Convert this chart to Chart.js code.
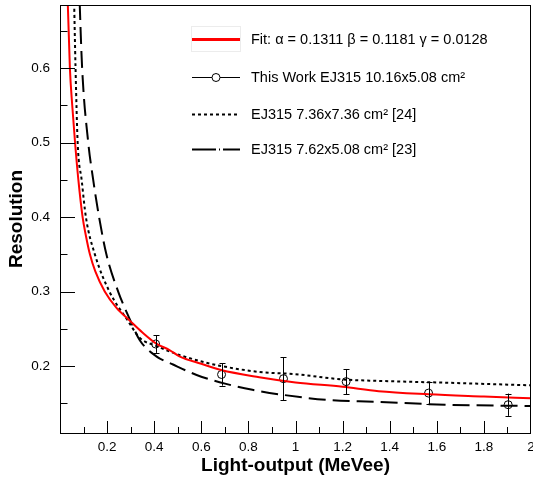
<!DOCTYPE html>
<html>
<head>
<meta charset="utf-8">
<script src="https://cdn.jsdelivr.net/npm/chart.js@4.4.1/dist/chart.umd.min.js"></script>
<style>
  html, body { margin: 0; padding: 0; background: #fff; }
  #wrap { width: 533px; height: 485px; }
</style>
</head>
<body>
<div id="wrap"><canvas id="resChart"></canvas></div>
<script>
// fit curve (red)
const fitX = [0.030, 0.042, 0.052, 0.064, 0.078, 0.096, 0.11, 0.127, 0.15, 0.19, 0.24, 0.296, 0.35, 0.409, 0.465, 0.507, 0.6, 0.684, 0.846, 1.0, 1.2, 1.353, 1.565, 1.8, 2.0];
const fitY = [0.72, 0.60, 0.55, 0.50, 0.45, 0.40, 0.375, 0.35, 0.327, 0.30, 0.278, 0.261, 0.245, 0.230, 0.2215, 0.213, 0.203, 0.1946, 0.185, 0.178, 0.172, 0.166, 0.162, 0.159, 0.1566];

// this work, points with errors
const workX = [0.406, 0.686, 0.949, 1.215, 1.565, 1.903];
const workY = [0.2296, 0.1886, 0.183, 0.179, 0.1636, 0.148];
const workErr = [0.012, 0.015, 0.029, 0.017, 0.0146, 0.015];

// EJ315 7.36x7.36 [24] (dotted)
const ej736X = [0.058, 0.066, 0.075, 0.092, 0.11, 0.148, 0.21, 0.288, 0.338, 0.409, 0.507, 0.62, 0.684, 0.846, 1.0, 1.2, 1.353, 1.635, 2.0];
const ej736Y = [0.72, 0.60, 0.50, 0.45, 0.40, 0.35, 0.30, 0.261, 0.238, 0.227, 0.2148, 0.2045, 0.200, 0.192, 0.189, 0.182, 0.180, 0.1776, 0.174];

// EJ315 7.62x5.08 [23] (long dash)
const ej762X = [0.080, 0.094, 0.12, 0.141, 0.166, 0.197, 0.247, 0.299, 0.338, 0.409, 0.48, 0.58, 0.705, 0.817, 0.93, 1.14, 1.34, 1.635, 2.0];
const ej762Y = [0.72, 0.60, 0.50, 0.45, 0.40, 0.35, 0.30, 0.261, 0.235, 0.213, 0.202, 0.188, 0.176, 0.168, 0.162, 0.1543, 0.152, 0.148, 0.1463];

const xTicks = [0.2, 0.4, 0.6, 0.8, 1, 1.2, 1.4, 1.6, 1.8, 2];
const xTickLabels = ['0.2', '0.4', '0.6', '0.8', '1', '1.2', '1.4', '1.6', '1.8', '2'];
const yTicks = [0.2, 0.3, 0.4, 0.5, 0.6];
const yTickLabels = ['0.2', '0.3', '0.4', '0.5', '0.6'];

const labels = [
  'Fit: \u03b1 = 0.1311 \u03b2 = 0.1181 \u03b3 = 0.0128',
  'This Work EJ315 10.16x5.08 cm\u00b2',
  'EJ315 7.36x7.36 cm\u00b2 [24]',
  'EJ315 7.62x5.08 cm\u00b2 [23]'
];

function pts(xs, ys) {
  return xs.map((x, i) => ({ x: x, y: ys[i] }));
}

const FONT = '"Liberation Sans", Helvetica, Arial, sans-serif';

// frame + inward ticks (ROOT style)
const framePlugin = {
  id: 'frame',
  afterDatasetsDraw(chart) {
    const ctx = chart.ctx;
    const a = chart.chartArea;
    const xs = chart.scales.x, ys = chart.scales.y;
    ctx.save();
    ctx.strokeStyle = '#000';
    ctx.lineWidth = 1;
    ctx.strokeRect(Math.round(a.left) + 0.5, Math.round(a.top) + 0.5,
      Math.round(a.right - a.left) - 1, Math.round(a.bottom - a.top));
    ctx.beginPath();
    for (let v = 0.1; v < 2.0; v += 0.1) {
      const px = Math.round(xs.getPixelForValue(v)) + 0.5;
      const major = Math.round(v * 10) % 2 === 0;
      ctx.moveTo(px, a.bottom);
      ctx.lineTo(px, a.bottom - (major ? 12 : 6));
    }
    for (let v = 0.15; v < 0.69; v += 0.05) {
      const py = Math.round(ys.getPixelForValue(v)) + 0.5;
      const major = Math.round(v * 100) % 10 === 0;
      ctx.moveTo(a.left, py);
      ctx.lineTo(a.left + (major ? 15 : 7.5), py);
    }
    ctx.stroke();
    ctx.restore();
  }
};

// error bars for "This Work"
const errorBarPlugin = {
  id: 'errorBars',
  afterDatasetsDraw(chart) {
    const ctx = chart.ctx;
    const xs = chart.scales.x, ys = chart.scales.y;
    ctx.save();
    ctx.strokeStyle = '#000';
    ctx.lineWidth = 1;
    ctx.beginPath();
    workX.forEach((x, i) => {
      const px = Math.round(xs.getPixelForValue(x)) + 0.5;
      const top = ys.getPixelForValue(workY[i] + workErr[i]);
      const bot = ys.getPixelForValue(workY[i] - workErr[i]);
      ctx.moveTo(px, top); ctx.lineTo(px, bot);
      ctx.moveTo(px - 3, Math.round(top) + 0.5); ctx.lineTo(px + 3, Math.round(top) + 0.5);
      ctx.moveTo(px - 3, Math.round(bot) + 0.5); ctx.lineTo(px + 3, Math.round(bot) + 0.5);
    });
    ctx.stroke();
    ctx.restore();
  }
};

// legend drawn in ROOT layout
const legendPlugin = {
  id: 'rootLegend',
  afterDraw(chart) {
    const ctx = chart.ctx;
    const rows = [39, 77, 114, 149];
    const x0 = 192, x1 = 240, tx = 251;
    ctx.save();
    chart.data.datasets.forEach((ds, i) => {
      const y = rows[i] + 0.5;
      if (i === 0) {
        ctx.strokeStyle = '#ececec';
        ctx.lineWidth = 1;
        ctx.strokeRect(x0 - 0.5, 26.5, x1 - x0 + 1, 25);
      }
      ctx.setLineDash(ds.legendDash || ds.borderDash || []);
      ctx.strokeStyle = ds.borderColor;
      ctx.lineWidth = ds.legendWidth || ds.borderWidth;
      ctx.beginPath();
      ctx.moveTo(x0, y);
      ctx.lineTo(x1, y);
      ctx.stroke();
      ctx.setLineDash([]);
      if (i === 1) {
        ctx.fillStyle = '#fff';
        ctx.beginPath();
        ctx.arc((x0 + x1) / 2, y, 4, 0, Math.PI * 2);
        ctx.fill();
        ctx.stroke();
      }
      ctx.fillStyle = '#000';
      ctx.font = '14.5px ' + FONT;
      ctx.textBaseline = 'middle';
      ctx.textAlign = 'left';
      ctx.fillText(ds.label, tx, rows[i] + 1);
    });
    ctx.restore();
  }
};

function trimPadding(axis) {
  axis.paddingLeft = 0; axis.paddingRight = 0;
  axis.paddingTop = 0; axis.paddingBottom = 0;
}

new Chart(document.getElementById('resChart'), {
  type: 'scatter',
  data: {
    datasets: [
      {
        label: labels[0],
        data: pts(fitX, fitY),
        showLine: true,
        borderColor: '#ff0000',
        borderWidth: 2,
        legendWidth: 3,
        pointRadius: 0,
        cubicInterpolationMode: 'monotone',
        clip: 0,
        order: 0
      },
      {
        label: labels[1],
        data: pts(workX, workY),
        showLine: false,
        borderColor: '#000',
        borderWidth: 1,
        pointStyle: 'circle',
        pointRadius: 4,
        pointBorderColor: '#000',
        pointBackgroundColor: 'rgba(255,255,255,0)',
        pointBorderWidth: 1,
        order: 1
      },
      {
        label: labels[2],
        data: pts(ej736X, ej736Y),
        showLine: true,
        borderColor: '#000',
        borderWidth: 2,
        borderDash: [3, 3],
        pointRadius: 0,
        cubicInterpolationMode: 'monotone',
        clip: 0,
        order: 2
      },
      {
        label: labels[3],
        data: pts(ej762X, ej762Y),
        showLine: true,
        borderColor: '#000',
        borderWidth: 2,
        borderDash: [17, 7],
        legendDash: [24, 3, 1, 3],
        pointRadius: 0,
        cubicInterpolationMode: 'monotone',
        clip: 0,
        order: 3
      }
    ]
  },
  options: {
    responsive: true,
    maintainAspectRatio: false,
    animation: false,
    layout: { autoPadding: false, padding: { top: 5, right: 2, left: 0, bottom: 0 } },
    plugins: {
      legend: { display: false },
      tooltip: { enabled: false }
    },
    scales: {
      x: {
        type: 'linear',
        min: 0,
        max: 2,
        grid: { display: false, drawTicks: false, tickLength: 0 },
        border: { display: false },
        afterBuildTicks: axis => { axis.ticks = xTicks.map(v => ({ value: v })); },
        afterFit: axis => {
          axis.height = 52;
          trimPadding(axis);
        },
        ticks: {
          autoSkip: false,
          maxRotation: 0,
          padding: 6,
          color: '#000',
          font: { family: FONT, size: 13.5 },
          callback: (v, i) => xTickLabels[i]
        },
        title: {
          display: true,
          text: 'Light-output (MeVee)',
          color: '#000',
          font: { family: FONT, size: 19, weight: 'bold' },
          padding: { top: 0, bottom: 8 }
        }
      },
      y: {
        type: 'linear',
        min: 0.11,
        max: 0.685,
        grid: { display: false, drawTicks: false, tickLength: 0 },
        border: { display: false },
        afterBuildTicks: axis => { axis.ticks = yTicks.map(v => ({ value: v })); },
        afterFit: axis => {
          axis.width = 60;
          trimPadding(axis);
        },
        ticks: {
          padding: 10,
          color: '#000',
          font: { family: FONT, size: 13.5 },
          callback: (v, i) => yTickLabels[i]
        },
        title: {
          display: true,
          text: 'Resolution',
          color: '#000',
          font: { family: FONT, size: 19, weight: 'bold' },
          padding: { top: 5, bottom: 0 }
        }
      }
    }
  },
  plugins: [framePlugin, errorBarPlugin, legendPlugin]
});
</script>
</body>
</html>
